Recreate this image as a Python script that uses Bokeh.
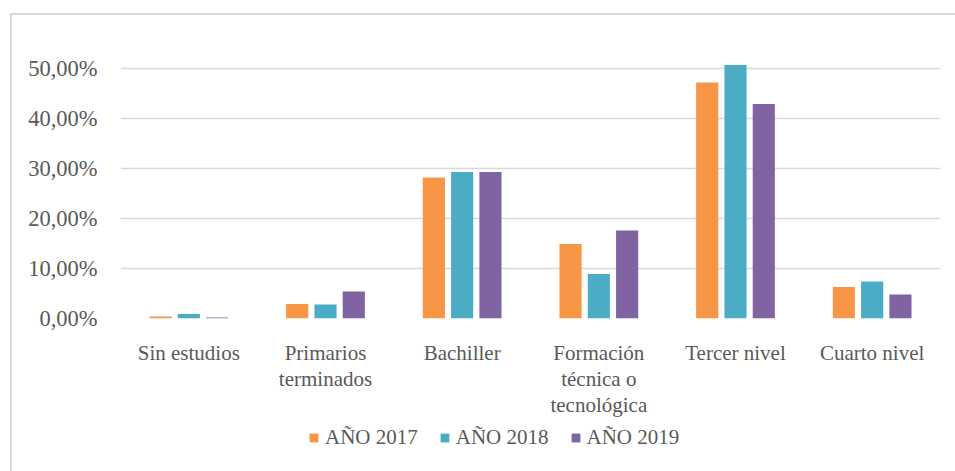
from bokeh.plotting import figure
from bokeh.models import ColumnDataSource, FixedTicker, Legend, LegendItem
from bokeh.layouts import column
from bokeh.transform import dodge
from bokeh.embed import file_html
from bokeh.resources import INLINE

categories = ["Sin estudios", "Primarios\nterminados", "Bachiller",
              "Formación\ntécnica o\ntecnológica", "Tercer nivel", "Cuarto nivel"]
series_names = ["AÑO 2017", "AÑO 2018", "AÑO 2019"]
y2017 = [0.004, 0.029, 0.282, 0.149, 0.472, 0.063]
y2018 = [0.009, 0.028, 0.293, 0.089, 0.507, 0.074]
y2019 = [0.002, 0.054, 0.293, 0.176, 0.429, 0.048]
tick_values = [0.0, 0.1, 0.2, 0.3, 0.4, 0.5]
tick_labels = ["0,00%", "10,00%", "20,00%", "30,00%", "40,00%", "50,00%"]
colors = ["#F79646", "#4BACC6", "#8064A2"]

FONT = "'Liberation Serif', 'Times New Roman', serif"
TXT = "#595959"

source = ColumnDataSource(data=dict(cat=categories, y2017=y2017,
                                    y2018=y2018, y2019=y2019))
fields = ["y2017", "y2018", "y2019"]
offsets = [-0.207, 0.0, 0.207]

p = figure(x_range=categories, y_range=(0, 0.55), width=943, height=405,
           output_backend="svg", toolbar_location=None,
           min_border_left=108, min_border_right=15,
           min_border_top=28, min_border_bottom=100)
p.outline_line_color = None

for field, off, c in zip(fields, offsets, colors):
    p.vbar(x=dodge("cat", off, range=p.x_range), top=field, width=0.162,
           source=source, fill_color=c, line_color=None)

p.yaxis.ticker = FixedTicker(ticks=tick_values)
p.yaxis.major_label_overrides = {v: l for v, l in zip(tick_values, tick_labels)}
for ax in (p.xaxis, p.yaxis):
    ax.axis_line_color = None
    ax.major_tick_line_color = None
    ax.minor_tick_line_color = None
    ax.major_label_text_font = FONT
    ax.major_label_text_color = TXT
p.yaxis.major_label_text_font_size = "22.5px"
p.xaxis.major_label_text_font_size = "21px"
p.xaxis.major_label_text_line_height = 1.1
p.yaxis.major_label_standoff = 17
p.xaxis.major_label_standoff = 16
p.xaxis.major_label_orientation = "horizontal"

p.xgrid.grid_line_color = None
p.ygrid.grid_line_color = "#d9d9d9"
p.ygrid.grid_line_width = 1.5

# legend strip: same series drawn out of view, only the legend shows
p2 = figure(x_range=p.x_range, y_range=(1, 2), width=943, height=51,
            output_backend="svg", toolbar_location=None,
            x_axis_location=None, y_axis_location=None,
            min_border_left=108, min_border_right=15, min_border_top=0,
            min_border_bottom=0)
p2.outline_line_color = None
p2.grid.grid_line_color = None
leg_renderers = [p2.vbar(x=dodge("cat", off, range=p2.x_range), top=field,
                         width=0.162, source=source, fill_color=c, line_color=None)
                 for field, off, c in zip(fields, offsets, colors)]
legend = Legend(items=[LegendItem(label=n, renderers=[r])
                       for n, r in zip(series_names, leg_renderers)],
                orientation="horizontal", location=(188, 21),
                label_text_font=FONT, label_text_font_size="21px",
                label_text_color=TXT, glyph_width=11, glyph_height=11,
                label_standoff=6, spacing=21, padding=0, margin=0,
                border_line_color=None, background_fill_alpha=0)
p2.add_layout(legend, "center")

lay = column(p, p2, spacing=0)
lay.styles = {"margin-left": "10px", "margin-top": "13px",
              "border-left": "2px solid #d9d9d9", "border-top": "2px solid #d9d9d9"}

open("out.html", "w").write(file_html(lay, INLINE))
